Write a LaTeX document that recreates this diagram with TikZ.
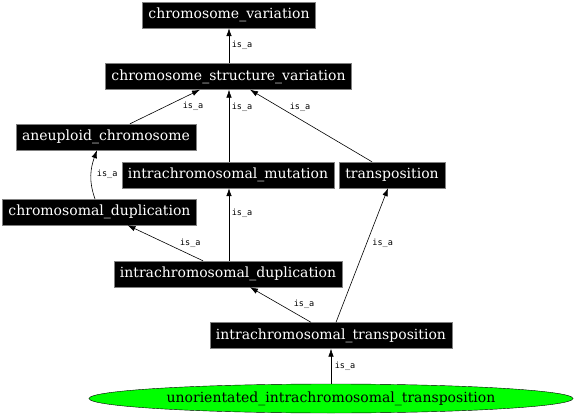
\documentclass[tikz,border=0pt]{standalone}
\usepackage{fontspec}
\setmainfont{DejaVu Serif}
\newfontfamily\isafont{DejaVu Sans Mono}
\usepackage{tikz}
\usetikzlibrary{arrows.meta,shapes.geometric}
\tikzset{term/.style={draw=gray,fill=black,text=white,inner xsep=6pt,inner ysep=0pt,minimum height=26pt,font=\fontsize{14}{16}\selectfont}}
\tikzset{isa/.style={line width=0.6pt,-{Latex[length=8pt,width=5.5pt]}}}
\tikzset{lbl/.style={anchor=west,inner sep=0.5pt,font=\isafont\fontsize{8.5}{10}\selectfont}}
\definecolor{leafgreen}{RGB}{0,255,0}

\begin{document}
\begin{tikzpicture}[x=1pt,y=-1pt]
    \useasboundingbox (0,0) rectangle (576,417);
    \node[term] (cv) at (229,15) {chromosome\_variation};
    \node[term] (csv) at (228.5,76.5) {chromosome\_structure\_variation};
    \node[term] (aneu) at (106,137) {aneuploid\_chromosome};
    \node[term] (imut) at (228,175) {intrachromosomal\_mutation};
    \node[term] (tpos) at (392,175) {transposition};
    \node[term] (cdup) at (99.5,212) {chromosomal\_duplication};
    \node[term] (idup) at (228,274) {intrachromosomal\_duplication};
    \node[term] (itr) at (331,335.5) {intrachromosomal\_transposition};
    \node[ellipse,draw=black,fill=leafgreen,minimum width=484pt,minimum height=29pt,inner sep=0pt,font=\fontsize{14}{16}\selectfont] (uit) at (331,398.5) {unorientated\_intrachromosomal\_transposition};
    \draw[isa] (csv.north -| cv) -- node[lbl,xshift=2pt] {is\_a} (cv);
    \draw[isa] ([xshift=24pt]aneu.north) -- node[lbl,xshift=17pt] {is\_a} ([xshift=-28.5pt]csv.south);
    \draw[isa] (imut.north -| 229,0) -- node[lbl,pos=0.75,xshift=2pt] {is\_a} (csv.south -| 229,0);
    \draw[isa] ([xshift=-20pt]tpos.north) -- node[lbl,pos=0.75,xshift=8.5pt] {is\_a} ([xshift=21.5pt]csv.south);
    \draw[isa] ([xshift=-4.5pt]cdup.north) to[out=110,in=-110] node[lbl,xshift=5pt] {is\_a} ([xshift=-9pt]aneu.south);
    \draw[isa] (idup.north -| 229,0) -- node[lbl,pos=0.66,xshift=2pt] {is\_a} (imut.south -| 229,0);
    \draw[isa] ([xshift=-25pt]idup.north) -- node[lbl,xshift=14pt] {is\_a} ([xshift=28pt]cdup.south);
    \draw[isa] ([xshift=-20pt]itr.north) -- node[lbl,xshift=12.5pt] {is\_a} ([xshift=22pt]idup.south);
    \draw[isa] ([xshift=5pt]itr.north) -- node[lbl,pos=0.59,xshift=5pt] {is\_a} ([xshift=-4pt]tpos.south);
    \draw[isa] (uit) -- node[lbl,xshift=3pt] {is\_a} (itr);
\end{tikzpicture}
\end{document}
